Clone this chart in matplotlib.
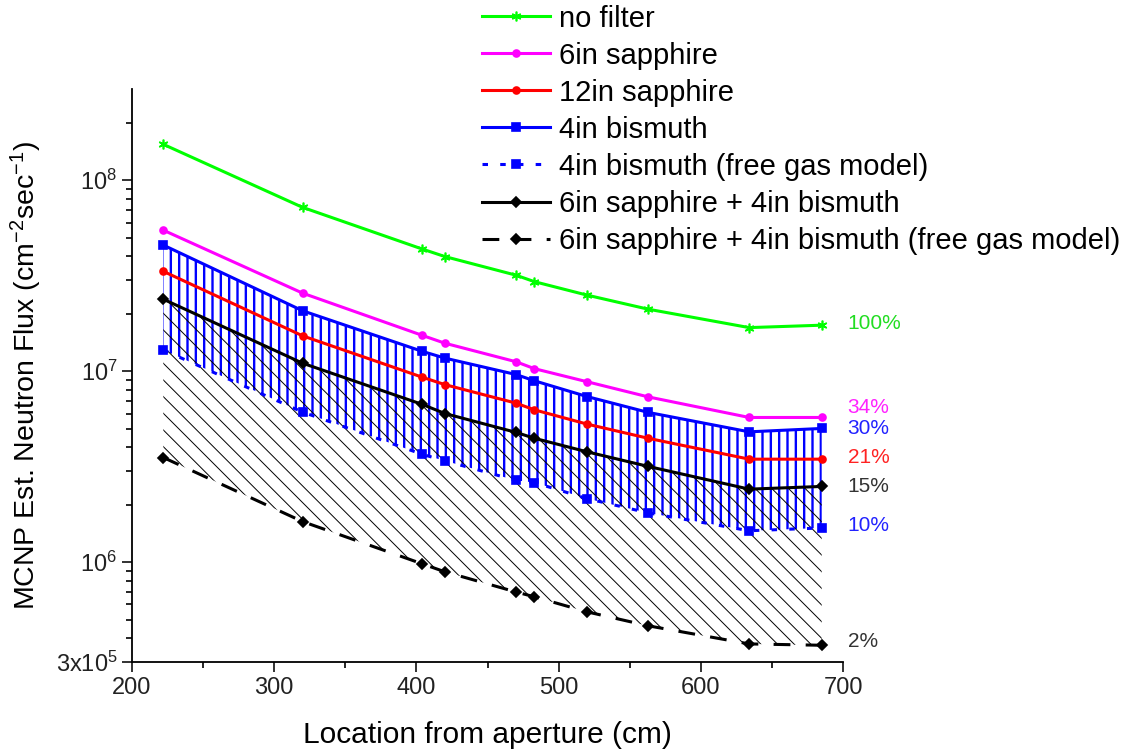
import matplotlib
matplotlib.use('Agg')
import matplotlib.pyplot as plt
from matplotlib.ticker import FixedLocator, NullFormatter, MultipleLocator

plt.rcParams['font.family'] = ['Liberation Sans', 'DejaVu Sans']
plt.rcParams['mathtext.fontset'] = 'custom'
plt.rcParams['mathtext.rm'] = 'Liberation Sans'
plt.rcParams['mathtext.it'] = 'Liberation Sans:italic'
plt.rcParams['mathtext.bf'] = 'Liberation Sans:bold'

# distance from aperture (cm)
location = [222, 320, 404, 420, 470, 483, 520, 563, 634, 685]

# MCNP estimated neutron flux (cm^-2 sec^-1)
no_filter = [1.54e8, 7.2e7, 4.36e7, 3.98e7, 3.18e7, 2.94e7, 2.50e7, 2.11e7, 1.69e7, 1.74e7]
sapphire6 = [5.47e7, 2.56e7, 1.54e7, 1.40e7, 1.12e7, 1.03e7, 8.8e6, 7.33e6, 5.72e6, 5.72e6]
sapphire12 = [3.33e7, 1.53e7, 9.3e6, 8.5e6, 6.8e6, 6.27e6, 5.28e6, 4.45e6, 3.46e6, 3.46e6]
bismuth4 = [4.57e7, 2.07e7, 1.27e7, 1.17e7, 9.6e6, 8.9e6, 7.36e6, 6.08e6, 4.81e6, 5.01e6]
bismuth4_fg = [1.29e7, 6.1e6, 3.67e6, 3.39e6, 2.68e6, 2.61e6, 2.15e6, 1.81e6, 1.46e6, 1.51e6]
combo = [2.38e7, 1.10e7, 6.7e6, 6.0e6, 4.78e6, 4.45e6, 3.78e6, 3.17e6, 2.41e6, 2.49e6]
combo_fg = [3.53e6, 1.63e6, 9.8e5, 8.9e5, 6.98e5, 6.58e5, 5.49e5, 4.64e5, 3.73e5, 3.67e5]

labels = ['no filter', '6in sapphire', '12in sapphire', '4in bismuth',
          '4in bismuth (free gas model)', '6in sapphire + 4in bismuth',
          '6in sapphire + 4in bismuth (free gas model)']
percents = ['100%', '34%', '21%', '30%', '10%', '15%', '2%']

yticks = [3e5, 1e6, 1e7, 1e8]
yticklabels = ['3x10$^5$', '10$^6$', '10$^7$', '10$^8$']

fig = plt.figure(figsize=(11.42, 7.55), dpi=100)
ax = fig.add_axes([0.1156, 0.1232, 0.6226, 0.7589])

# shaded ranges between the two models
blue_fill = ax.fill_between(location, bismuth4_fg, bismuth4, facecolor='none',
                            edgecolor='#0000ff', hatch='||', linewidth=0, zorder=1)
black_fill = ax.fill_between(location, combo_fg, combo, facecolor='none',
                             edgecolor='black', hatch='\\\\', linewidth=0, zorder=1)
if hasattr(blue_fill, 'set_hatch_linewidth'):
    blue_fill.set_hatch_linewidth(1.7)
    black_fill.set_hatch_linewidth(0.7)

series = [
    (no_filter, '#00ff00', (6, 2, 0), 7, '-'),
    (sapphire6, '#ff00ff', 'o', 5, '-'),
    (sapphire12, '#ff0000', 'o', 5, '-'),
    (bismuth4, '#0000ff', 's', 6, '-'),
    (bismuth4_fg, '#0000ff', 's', 6, (0, (1.8, 4))),
    (combo, 'black', 'D', 5, '-'),
    (combo_fg, 'black', 'D', 5, (0, (5.5, 5))),
]
handles = []
for (vals, col, mk, ms, ls), lab in zip(series, labels):
    h, = ax.plot(location, vals, color=col, marker=mk, markersize=ms, linestyle=ls,
                 linewidth=2.2, label=lab, zorder=3, markeredgewidth=1.2)
    handles.append(h)

ax.set_yscale('log')
ax.set_ylim(3e5, 3e8)
ax.set_xlim(200, 700)
ax.yaxis.set_major_locator(FixedLocator(yticks))
ax.set_yticklabels(yticklabels)
ax.yaxis.set_minor_locator(FixedLocator([m * 10 ** e for e in range(5, 9) for m in range(2, 10)
                                         if 3e5 < m * 10 ** e < 3e8]))
ax.yaxis.set_minor_formatter(NullFormatter())
ax.xaxis.set_major_locator(MultipleLocator(100))
ax.xaxis.set_minor_locator(MultipleLocator(50))

for side in ['top', 'right']:
    ax.spines[side].set_visible(False)
for side in ['left', 'bottom']:
    ax.spines[side].set_linewidth(1.3)
ax.tick_params(which='major', direction='out', length=7, width=1.3, labelsize=17, colors='#222222')
ax.tick_params(which='minor', direction='out', length=4, width=1.2)

ax.set_xlabel('Location from aperture (cm)', fontsize=21.5, labelpad=16)
ax.set_ylabel('MCNP Est. Neutron Flux (cm$^{-2}$sec$^{-1}$)', fontsize=20.5, labelpad=8)

# percentage labels next to the last point of each curve
pct_series = [no_filter, sapphire6, sapphire12, bismuth4, bismuth4_fg, combo, combo_fg]
pct_colors = ['#22dd22', '#ff22ff', '#ff2222', '#2222ff', '#2222ff', '#333333', '#333333']
pct_dy = [2, 10, 2, 0, 2, 0, 4]
for vals, txt, col, dy in zip(pct_series, percents, pct_colors, pct_dy):
    ax.annotate(txt, xy=(location[-1], vals[-1]), xytext=(26, dy), textcoords='offset pixels',
                ha='left', va='center', fontsize=15, color=col, annotation_clip=False)

fig.legend(handles=handles, loc='upper left', bbox_to_anchor=(0.422, 0.994), frameon=False,
           fontsize=21, handlelength=2.35, handletextpad=0.3, labelspacing=0.31,
           borderpad=0, borderaxespad=0)

fig.savefig('out.png', dpi=100)
